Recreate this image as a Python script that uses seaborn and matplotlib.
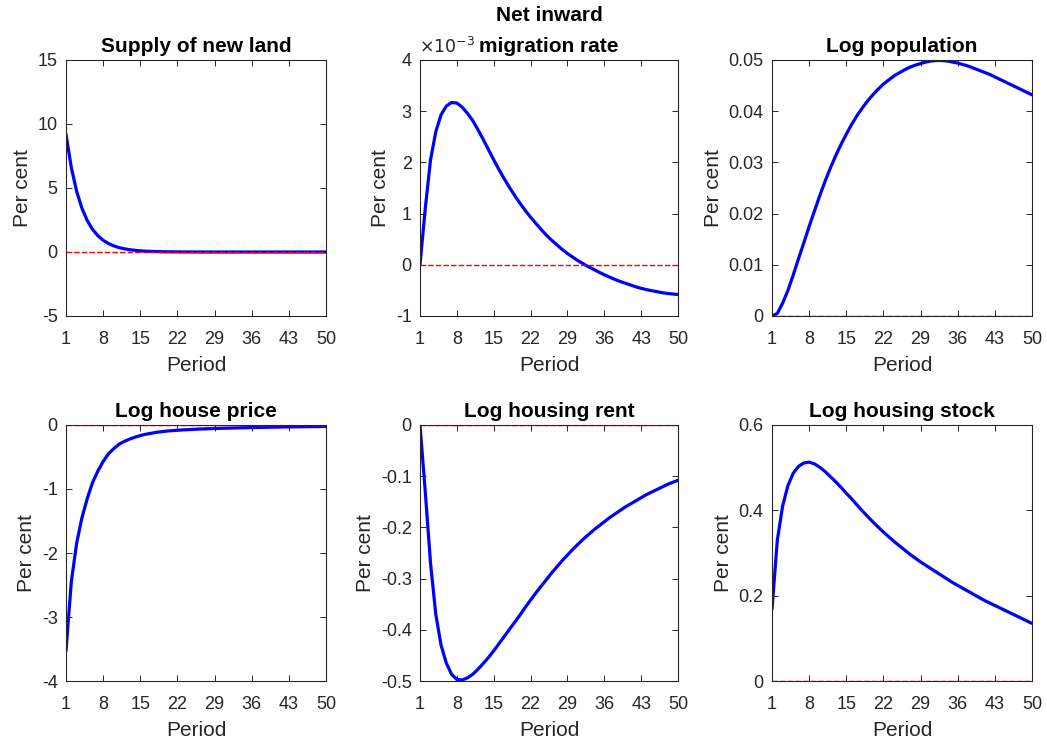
import numpy as np
import pandas as pd
import matplotlib
matplotlib.use("Agg")
import matplotlib.pyplot as plt
import seaborn as sns
from matplotlib.ticker import FuncFormatter

periods = list(range(1, 51))

supply_new_land = [9.2, 6.6, 4.75, 3.42, 2.46, 1.77, 1.27, 0.92, 0.66, 0.48,
                   0.34, 0.25, 0.18, 0.13, 0.09, 0.065, 0.047, 0.034, 0.024, 0.017,
                   0.012, 0.009, 0.006, 0.004, 0.003, 0.002, 0.001, 0.0, 0.0, 0.0,
                   0.0, 0.0, 0.0, 0.0, 0.0, 0.0, 0.0, 0.0, 0.0, 0.0,
                   0.0, 0.0, 0.0, 0.0, 0.0, 0.0, 0.0, 0.0, 0.0, 0.0]

# net inward migration rate, in units of 1e-3
migration_e3 = [0.0, 1.1, 2.05, 2.6, 2.93, 3.1, 3.17, 3.16, 3.08, 2.96,
                2.82, 2.64, 2.45, 2.25, 2.05, 1.86, 1.68, 1.51, 1.35, 1.2,
                1.06, 0.93, 0.81, 0.69, 0.58, 0.48, 0.39, 0.30, 0.22, 0.15,
                0.08, 0.02, -0.04, -0.09, -0.145, -0.195, -0.24, -0.285, -0.325, -0.36,
                -0.395, -0.43, -0.46, -0.485, -0.505, -0.525, -0.545, -0.56, -0.57, -0.58]

log_population = [0.0, 0.0005, 0.0025, 0.0050, 0.0080, 0.0112, 0.0143, 0.0175, 0.0205, 0.0235,
                  0.0263, 0.0289, 0.0313, 0.0335, 0.0355, 0.0374, 0.0391, 0.0406, 0.0420, 0.0432,
                  0.0443, 0.0453, 0.0461, 0.0469, 0.0475, 0.0481, 0.0486, 0.0490, 0.0493, 0.0496,
                  0.0498, 0.0499, 0.0499, 0.0498, 0.0496, 0.0494, 0.0491, 0.0488, 0.0484, 0.0480,
                  0.0476, 0.0472, 0.0467, 0.0462, 0.0457, 0.0452, 0.0447, 0.0442, 0.0437, 0.0432]

log_house_price = [-3.53, -2.45, -1.85, -1.45, -1.15, -0.9, -0.72, -0.57, -0.45, -0.37,
                   -0.3, -0.255, -0.22, -0.19, -0.165, -0.145, -0.13, -0.115, -0.105, -0.095,
                   -0.088, -0.082, -0.077, -0.072, -0.068, -0.064, -0.061, -0.058, -0.055, -0.052,
                   -0.05, -0.048, -0.046, -0.044, -0.042, -0.04, -0.038, -0.037, -0.035, -0.034,
                   -0.033, -0.031, -0.03, -0.029, -0.028, -0.027, -0.026, -0.025, -0.024, -0.023]

log_housing_rent = [0.0, -0.13, -0.27, -0.37, -0.43, -0.465, -0.487, -0.497, -0.498, -0.494,
                    -0.487, -0.477, -0.466, -0.454, -0.441, -0.427, -0.413, -0.399, -0.385, -0.371,
                    -0.356, -0.342, -0.328, -0.315, -0.302, -0.289, -0.277, -0.265, -0.254, -0.243,
                    -0.233, -0.223, -0.214, -0.205, -0.197, -0.189, -0.181, -0.174, -0.167, -0.160,
                    -0.154, -0.148, -0.142, -0.136, -0.131, -0.126, -0.121, -0.116, -0.112, -0.108]

log_housing_stock = [0.168, 0.33, 0.41, 0.458, 0.487, 0.503, 0.511, 0.513, 0.509, 0.501,
                     0.491, 0.479, 0.467, 0.454, 0.440, 0.427, 0.413, 0.399, 0.386, 0.373,
                     0.361, 0.349, 0.338, 0.327, 0.317, 0.307, 0.297, 0.288, 0.279, 0.271,
                     0.263, 0.255, 0.247, 0.239, 0.231, 0.224, 0.217, 0.210, 0.203, 0.196,
                     0.189, 0.183, 0.177, 0.171, 0.165, 0.159, 0.153, 0.147, 0.141, 0.135]

titles = ["Supply of new land", "Net inward\nmigration rate", "Log population",
          "Log house price", "Log housing rent", "Log housing stock"]
series = [supply_new_land, migration_e3, log_population,
          log_house_price, log_housing_rent, log_housing_stock]
ylims = [(-5, 15), (-1, 4), (0, 0.05), (-4, 0), (-0.5, 0), (0, 0.6)]
yticks = [[-5, 0, 5, 10, 15], [-1, 0, 1, 2, 3, 4], [0, 0.01, 0.02, 0.03, 0.04, 0.05],
          [-4, -3, -2, -1, 0], [-0.5, -0.4, -0.3, -0.2, -0.1, 0], [0, 0.2, 0.4, 0.6]]
xticks = [1, 8, 15, 22, 29, 36, 43, 50]

sns.set_style("white")
plt.rcParams['font.family'] = ['Liberation Sans', 'DejaVu Sans']
plt.rcParams['axes.unicode_minus'] = False

fig = plt.figure(figsize=(10.47, 7.42), dpi=100)
W, H = 1047, 742
col_lr = [(66, 326), (420, 678), (772, 1032)]
row_tb = [(60, 316), (425, 681)]
axcol = '#262626'

for i in range(6):
    r, c = divmod(i, 3)
    l, rr = col_lr[c]
    t, b = row_tb[r]
    ax = fig.add_axes([l / W, 1 - b / H, (rr - l) / W, (b - t) / H])
    df = pd.DataFrame({"Period": periods, "value": series[i]})
    sns.lineplot(data=df, x="Period", y="value", ax=ax, color="#0000ff", linewidth=2.3)
    sns.lineplot(x=periods, y=[0.0] * len(periods), ax=ax, color="#ff0000",
                 linestyle=(0, (4, 1.5)), linewidth=1.0)
    ax.set_xlim(1, 50)
    ax.set_ylim(*ylims[i])
    ax.set_xticks(xticks)
    ax.set_yticks(yticks[i])
    ax.yaxis.set_major_formatter(FuncFormatter(lambda v, p: f"{v:g}" if abs(v) > 1e-12 else "0"))
    ax.tick_params(direction='in', length=4, width=0.7, colors=axcol, labelsize=13,
                   top=True, right=True, bottom=True, left=True, labelcolor=axcol)
    ax.tick_params(axis='x', pad=10.5)
    ax.tick_params(axis='y', pad=6)
    for s in ax.spines.values():
        s.set_color(axcol)
        s.set_linewidth(0.8)
        s.set_visible(True)
    ax.set_xlabel("Period", fontsize=15, color=axcol, labelpad=6)
    ax.set_ylabel("Per cent", fontsize=15, color=axcol, labelpad=4)
    ax.set_title(titles[i], fontsize=15, fontweight='bold', color='black', pad=6,
                 linespacing=1.75)

    if i == 1:
        ax.text(-0.005, 1.012, r"$\times10^{-3}$", transform=ax.transAxes, fontsize=12.5,
                color=axcol, ha='left', va='bottom', family=['DejaVu Sans'])

fig.savefig("out.png", dpi=100)
